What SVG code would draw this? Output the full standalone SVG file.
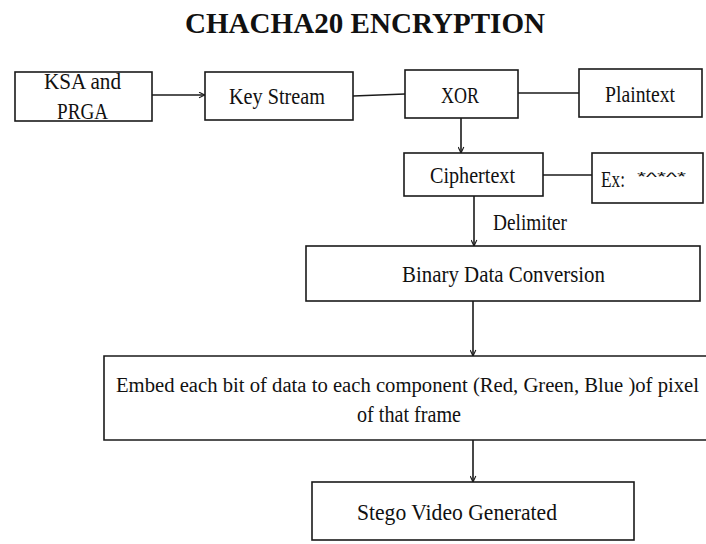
<svg xmlns="http://www.w3.org/2000/svg" width="706" height="544" viewBox="0 0 706 544">
  <style>
    .box { fill: #ffffff; stroke: #1a1a1a; stroke-width: 1.6; }
    .lbl { font-family: "Liberation Serif", "Times New Roman", serif; font-size: 23px; fill: #111111; }
    .lbl-long { font-size: 20.5px; }
    .title { font-family: "Liberation Serif", "Times New Roman", serif; font-size: 30px; font-weight: bold; fill: #111111; }
    .small { font-family: "Liberation Sans", Arial, sans-serif; font-size: 13px; fill: #111111; }
    .wire { fill: none; stroke: #1a1a1a; stroke-width: 1.6; }
  </style>
  <defs>
    <marker id="arrow" viewBox="0 0 10 10" refX="9.5" refY="5" markerWidth="7" markerHeight="7" markerUnits="userSpaceOnUse" orient="auto">
      <polyline points="1,1 9.5,5 1,9" fill="none" stroke="#1a1a1a" stroke-width="1.6"/>
    </marker>
  </defs>

  <rect width="706" height="544" fill="#ffffff"/>

  <text class="title" x="185" y="33" textLength="360" lengthAdjust="spacingAndGlyphs">CHACHA20 ENCRYPTION</text>

  <g id="connectors">
    <line class="wire" x1="152" y1="95" x2="205" y2="95" marker-end="url(#arrow)"/>
    <line class="wire" x1="353" y1="96" x2="405" y2="94"/>
    <line class="wire" x1="518" y1="93" x2="579" y2="93"/>
    <line class="wire" x1="461" y1="118" x2="461" y2="153" marker-end="url(#arrow)"/>
    <line class="wire" x1="543" y1="175" x2="592" y2="175"/>
    <line class="wire" x1="474" y1="196" x2="474" y2="246" marker-end="url(#arrow)"/>
    <line class="wire" x1="473" y1="301" x2="473" y2="356" marker-end="url(#arrow)"/>
    <line class="wire" x1="473" y1="440" x2="473" y2="482" marker-end="url(#arrow)"/>
    <text class="lbl" x="493" y="230" textLength="74" lengthAdjust="spacingAndGlyphs">Delimiter</text>
  </g>

  <g id="ksa">
    <rect class="box" x="15" y="72" width="137" height="49"/>
    <text class="lbl" x="44" y="89" textLength="77" lengthAdjust="spacingAndGlyphs">KSA and</text>
    <text class="lbl" x="57" y="119" textLength="51" lengthAdjust="spacingAndGlyphs">PRGA</text>
  </g>

  <g id="keystream">
    <rect class="box" x="205" y="72" width="148" height="48"/>
    <text class="lbl" x="229" y="104" textLength="96" lengthAdjust="spacingAndGlyphs">Key Stream</text>
  </g>

  <g id="xor">
    <rect class="box" x="405" y="70" width="113" height="48"/>
    <text class="lbl" x="441" y="103" textLength="38" lengthAdjust="spacingAndGlyphs">XOR</text>
  </g>

  <g id="plaintext">
    <rect class="box" x="579" y="69" width="123" height="48"/>
    <text class="lbl" x="605" y="102" textLength="70" lengthAdjust="spacingAndGlyphs">Plaintext</text>
  </g>

  <g id="ciphertext">
    <rect class="box" x="404" y="153" width="139" height="43"/>
    <text class="lbl" x="430" y="183" textLength="85" lengthAdjust="spacingAndGlyphs">Ciphertext</text>
  </g>

  <g id="example">
    <rect class="box" x="592" y="153" width="111" height="50"/>
    <text class="lbl" x="601" y="187" textLength="24" lengthAdjust="spacingAndGlyphs">Ex:</text>
    <text class="small" x="637" y="181" textLength="49" lengthAdjust="spacingAndGlyphs">*^*^*</text>
  </g>

  <g id="binary">
    <rect class="box" x="306" y="246" width="394" height="55"/>
    <text class="lbl" x="402" y="282" textLength="203" lengthAdjust="spacingAndGlyphs">Binary  Data Conversion</text>
  </g>

  <g id="embed">
    <!-- box runs past the right edge of the canvas, so only three sides are drawn -->
    <path class="box" d="M706,356 H104 V440 H706"/>
    <text class="lbl lbl-long" x="116" y="392" textLength="583" lengthAdjust="spacingAndGlyphs">Embed  each bit of data to each component (Red,  Green,  Blue )of pixel</text>
    <text class="lbl" x="357" y="422" textLength="104" lengthAdjust="spacingAndGlyphs">of that frame</text>
  </g>

  <g id="stego">
    <rect class="box" x="312" y="482" width="322" height="58"/>
    <text class="lbl" x="357" y="520" textLength="200" lengthAdjust="spacingAndGlyphs">Stego Video  Generated</text>
  </g>
</svg>
